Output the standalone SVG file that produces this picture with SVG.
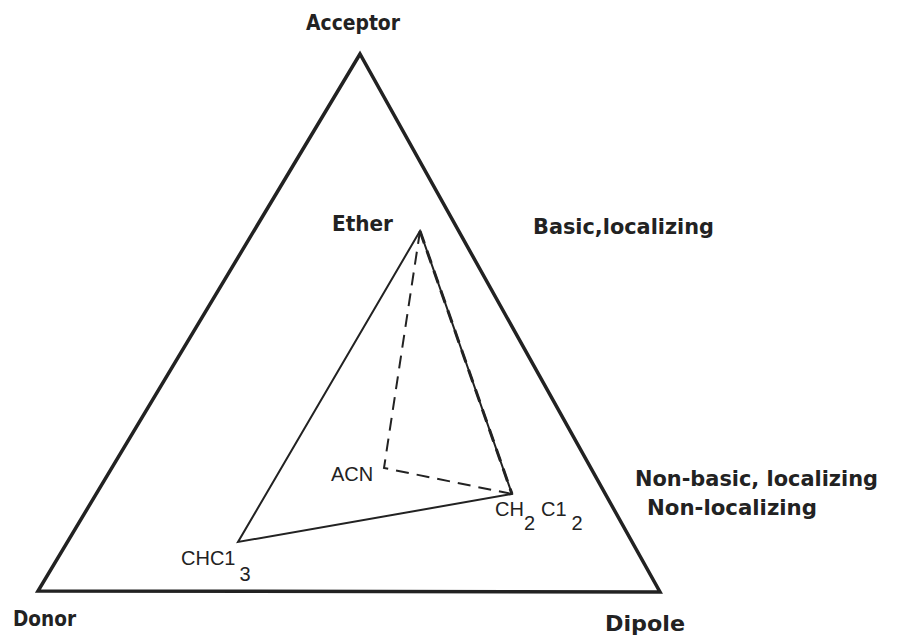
<svg xmlns="http://www.w3.org/2000/svg" width="899" height="637" viewBox="0 0 899 637">
<style>
.lbl{font-family:"DejaVu Sans","Liberation Sans",Arial,sans-serif;font-weight:bold;font-size:21px;fill:#222}
.chem{font-family:"Liberation Sans",Arial,sans-serif;font-size:20px;fill:#222}
.solid{fill:none;stroke:#222;stroke-width:2;stroke-linejoin:miter}
.dash{fill:none;stroke:#222;stroke-width:2;stroke-dasharray:13,8}
</style>
<rect width="899" height="637" fill="#fff"/>
<g id="outer-triangle"><polygon class="solid" points="360,54 38,591 660,592" style="stroke-width:3.5"/></g>
<g id="connectors">
<polygon class="solid" points="420,231 238,542 512,494"/>
<polyline class="dash" points="420,231 384,468 512,494"/>
<line class="dash" x1="420" y1="231" x2="512" y2="494" style="stroke-width:3"/>
</g>
<g id="acceptor"><text class="lbl" x="306" y="30" textLength="94" lengthAdjust="spacingAndGlyphs">Acceptor</text></g>
<g id="donor"><text class="lbl" x="13" y="626" textLength="63" lengthAdjust="spacingAndGlyphs">Donor</text></g>
<g id="dipole"><text class="lbl" x="605" y="631" textLength="80" lengthAdjust="spacingAndGlyphs">Dipole</text></g>
<g id="ether"><text class="lbl" x="332" y="231" textLength="61" lengthAdjust="spacingAndGlyphs">Ether</text></g>
<g id="basic"><text class="lbl" x="533" y="234" textLength="181" lengthAdjust="spacingAndGlyphs">Basic,localizing</text></g>
<g id="nonbasic"><text class="lbl" x="635" y="486" textLength="243" lengthAdjust="spacingAndGlyphs">Non-basic, localizing</text></g>
<g id="nonlocal"><text class="lbl" x="647" y="515" textLength="170" lengthAdjust="spacingAndGlyphs">Non-localizing</text></g>
<g id="acn"><text class="chem" x="331" y="481">ACN</text></g>
<g id="ch2cl2"><text class="chem" x="495" y="516">CH<tspan dy="14">2</tspan><tspan dx="6" dy="-14">C1</tspan><tspan dx="5" dy="14">2</tspan></text></g>
<g id="chcl3"><text class="chem" x="181" y="565">CHC1<tspan dx="4" dy="16">3</tspan></text></g>
</svg>
